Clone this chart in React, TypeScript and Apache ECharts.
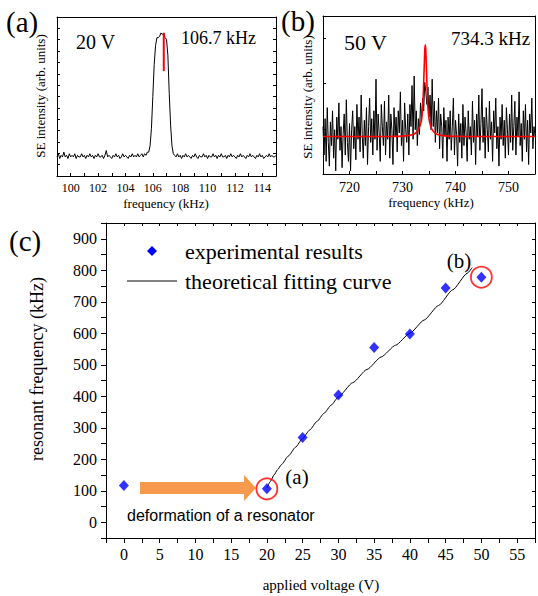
import React, { useEffect, useRef } from "react";
import * as echarts from "echarts";

// ---------- Panel (a): 20 V spectrum ----------
const aStart = 99.0;
const aStep = 0.1;
const aSignal = [
  0.12,0.14,0.11,0.13,0.12,0.15,0.12,0.13,0.11,0.14,
  0.12,0.13,0.12,0.14,0.11,0.13,0.12,0.12,0.14,0.12,
  0.13,0.11,0.13,0.12,0.14,0.12,0.13,0.11,0.13,0.12,
  0.14,0.12,0.12,0.13,0.11,0.13,0.16,0.12,0.13,0.12,
  0.11,0.13,0.12,0.14,0.12,0.13,0.11,0.12,0.14,0.12,
  0.13,0.12,0.11,0.13,0.12,0.14,0.12,0.13,0.12,0.14,
  0.12,0.13,0.14,0.12,0.14,0.13,0.15,
  0.15,0.19,0.30,0.50,0.70,0.82,0.87,0.87,0.88,0.90,0.89,0.90,0.87,0.86,0.76,0.52,0.32,0.19,0.14,0.13,
  0.12,0.14,0.12,0.13,0.11,0.13,0.12,0.14,0.12,0.13,
  0.12,0.11,0.13,0.12,0.14,0.12,0.11,0.13,0.12,0.12,
  0.14,0.12,0.13,0.11,0.13,0.12,0.12,0.14,0.12,0.13,
  0.11,0.13,0.12,0.14,0.12,0.12,0.13,0.11,0.13,0.12,
  0.14,0.12,0.13,0.12,0.11,0.13,0.12,0.14,0.12,0.13,
  0.12,0.11,0.13,0.12,0.14,0.12,0.13,0.12,0.11,0.13,
  0.12,0.14,0.12,0.13,0.11,0.12,0.13,0.12,0.14,0.12,
  0.13,0.12,0.12,0.13,
];
const aMarkerX = [106.8, 106.8];
const aMarkerY = [0.66, 0.9];

// ---------- Panel (b): 50 V spectrum ----------
const bStart = 715.0;
const bStep = 0.2;
const bSignal = [
  0.30,0.12,0.35,0.08,0.42,0.20,0.05,0.33,0.18,0.40,
  0.10,0.28,0.02,0.36,0.22,0.45,0.15,0.30,0.04,0.25,
  0.38,0.12,0.47,0.20,0.08,0.32,0.02,0.28,0.40,0.16,
  0.30,0.09,0.44,0.22,0.36,0.14,0.50,0.25,0.10,0.34,
  0.18,0.42,0.06,0.30,0.48,0.20,0.35,0.12,0.40,0.22,
  0.60,0.15,0.38,0.26,0.08,0.44,0.30,0.18,0.46,0.12,
  0.33,0.22,0.50,0.10,0.38,0.28,0.06,0.42,0.24,0.36,
  0.14,0.40,0.26,0.52,0.18,0.34,0.08,0.45,0.28,0.20,
  0.38,0.12,0.44,0.30,0.56,0.22,0.62,0.28,0.40,0.18,
  0.35,0.25,0.45,0.33,0.48,0.40,0.58,0.52,0.44,0.55,
  0.36,0.50,0.28,0.60,0.30,0.46,0.20,0.40,0.26,0.48,
  0.16,0.38,0.30,0.10,0.42,0.24,0.34,0.08,0.36,0.22,
  0.40,0.15,0.30,0.48,0.12,0.34,0.25,0.05,0.38,0.20,
  0.32,0.10,0.44,0.18,0.36,0.26,0.08,0.40,0.22,0.30,
  0.12,0.46,0.20,0.34,0.06,0.38,0.24,0.50,0.15,0.32,
  0.54,0.20,0.36,0.10,0.42,0.28,0.14,0.46,0.22,0.33,
  0.08,0.40,0.26,0.48,0.16,0.30,0.05,0.36,0.22,0.44,
  0.18,0.34,0.10,0.42,0.28,0.12,0.38,0.20,0.50,0.15,
  0.30,0.46,0.12,0.36,0.24,0.52,0.18,0.32,0.08,0.40,
  0.22,0.44,0.14,0.34,0.06,0.38,0.26,0.48,0.16,0.30,
  0.24,
];
const bFitX = [715, 725, 728, 730, 731, 732, 732.5, 733, 733.5, 733.8, 734.0, 734.2, 734.3, 734.4, 734.6, 734.8, 735.1, 735.6, 736.1, 736.6, 737.6, 738.6, 741, 745, 755];
const bFitY = [0.237, 0.237, 0.238, 0.240, 0.243, 0.250, 0.260, 0.280, 0.330, 0.420, 0.580, 0.780, 0.817, 0.780, 0.580, 0.420, 0.330, 0.280, 0.260, 0.250, 0.243, 0.240, 0.238, 0.237, 0.237];

// ---------- Panel (c): resonant frequency vs voltage ----------
const voltage = [0, 20, 25, 30, 35, 40, 45, 50];
const resonantFreq = [117, 106, 269, 404, 555, 598, 744, 778];
const circledIdx = [1, 7];
const fitVoltage = [20, 20.5, 21, 21.5, 22, 23, 24, 25, 26, 27, 28, 29, 30, 32, 34, 36, 38, 40, 42, 44, 46, 48, 48.7];
const fitFreq = [108, 130, 150, 167, 182, 210, 238, 266, 293, 320, 346, 372, 398, 443, 485, 525, 562, 600, 642, 688, 738, 790, 808];

const yTicksC = [0, 100, 200, 300, 400, 500, 600, 700, 800, 900];

const SERIF = "Liberation Serif, Times New Roman, Times, serif";
const SANS = "Liberation Sans, Arial, sans-serif";

function lineAxis(extra: any) {
  return {
    type: "value",
    axisLine: { show: true, onZero: false, lineStyle: { color: "#000", width: 1 } },
    axisTick: { show: false },
    axisLabel: { show: false },
    splitLine: { show: false },
    ...extra,
  };
}

function txt(x: number, y: number, text: string, size: number, opts: any = {}) {
  const { rotation, align, family, ...rest } = opts;
  return {
    type: "text",
    x,
    y,
    rotation: rotation || 0,
    style: {
      text,
      fontSize: size,
      fontFamily: family || SERIF,
      fill: "#000",
      align: align || "left",
      verticalAlign: "middle",
      ...rest,
    },
  };
}

export default function App() {
  const ref = useRef<HTMLDivElement>(null);
  useEffect(() => {
    if (!ref.current) return;
    const chart = echarts.init(ref.current, null, { renderer: "svg" });

    const aData = aSignal.map((v, i) => [+(aStart + i * aStep).toFixed(2), v]);
    const bData = bSignal.map((v, i) => [+(bStart + i * bStep).toFixed(2), v]);
    const aMarker = aMarkerX.map((x, i) => [x, aMarkerY[i]]);
    const bFit = bFitX.map((x, i) => [x, bFitY[i]]);
    const cPts = voltage.map((x, i) => [x, resonantFreq[i]]);
    const cCirc = circledIdx.map((i) => [voltage[i], resonantFreq[i]]);
    const cFit = fitVoltage.map((x, i) => [x, fitFreq[i]]);

    const tickIn = (len: number) => ({ show: true, inside: true, length: len, lineStyle: { color: "#000", width: 1 } });

    const option: any = {
      animation: false,
      backgroundColor: "#fff",
      textStyle: { fontFamily: SERIF },
      grid: [
        { left: 57, top: 17, width: 219, height: 159 },
        { left: 323, top: 16, width: 214, height: 158 },
        { left: 106, top: 223, width: 431, height: 315 },
      ],
      xAxis: [
        lineAxis({
          gridIndex: 0, position: "bottom", min: 99, max: 115, interval: 1,
          axisTick: tickIn(3),
          axisLabel: {
            show: true, margin: 6, color: "#000", fontFamily: SERIF, fontSize: 12,
            formatter: (v: number) => (Math.round(v) % 2 === 0 && v > 99 && v < 115 ? String(Math.round(v)) : ""),
          },
        }),
        lineAxis({ gridIndex: 0, position: "top", min: 99, max: 115 }),
        lineAxis({
          gridIndex: 1, position: "bottom", min: 715, max: 755, interval: 5,
          axisTick: tickIn(3),
          axisLabel: {
            show: true, margin: 6, color: "#000", fontFamily: SERIF, fontSize: 14,
            formatter: (v: number) => (Math.round(v) % 10 === 0 && v > 715 && v < 755 ? String(Math.round(v)) : ""),
          },
        }),
        lineAxis({ gridIndex: 1, position: "top", min: 715, max: 755 }),
        lineAxis({
          gridIndex: 2, position: "bottom", min: -2.5, max: 57.5, interval: 2.5,
          axisTick: { show: true, inside: false, length: 5, lineStyle: { color: "#000", width: 1 } },
          axisLabel: {
            show: true, margin: 8, color: "#000", fontFamily: SERIF, fontSize: 16,
            formatter: (v: number) => {
              const r = Math.round(v);
              return Math.abs(v - r) < 1e-6 && r % 5 === 0 && r >= 0 && r <= 55 ? String(r) : "";
            },
          },
        }),
        lineAxis({
          gridIndex: 2, position: "top", min: -2.5, max: 57.5, interval: 2.5,
          axisTick: tickIn(3),
        }),
      ],
      yAxis: [
        lineAxis({ gridIndex: 0, position: "left", min: 0, max: 1, interval: 1 / 14, axisTick: tickIn(3) }),
        lineAxis({ gridIndex: 0, position: "right", min: 0, max: 1, interval: 1 / 14, axisTick: tickIn(3) }),
        lineAxis({ gridIndex: 1, position: "left", min: 0, max: 1, interval: 2 / 7, axisTick: tickIn(3) }),
        lineAxis({ gridIndex: 1, position: "right", min: 0, max: 1 }),
        lineAxis({
          gridIndex: 2, position: "left", min: -50, max: 950, interval: 50,
          axisTick: { show: true, inside: false, length: 5, lineStyle: { color: "#000", width: 1 } },
          axisLabel: {
            show: true, margin: 9, color: "#000", fontFamily: SERIF, fontSize: 16,
            formatter: (v: number) => {
              const r = Math.round(v);
              return yTicksC.indexOf(r) >= 0 && Math.abs(v - r) < 1e-6 ? String(r) : "";
            },
          },
        }),
        lineAxis({
          gridIndex: 2, position: "right", min: -50, max: 950, interval: 50,
          axisTick: tickIn(3),
        }),
      ],
      series: [
        {
          type: "line", xAxisIndex: 0, yAxisIndex: 0, data: aData, showSymbol: false, symbol: "none",
          lineStyle: { color: "#000", width: 1 }, z: 2,
        },
        {
          type: "line", xAxisIndex: 0, yAxisIndex: 0, data: aMarker, symbol: "none",
          lineStyle: { color: "#ff0000", width: 2 }, z: 3,
        },
        {
          type: "line", xAxisIndex: 2, yAxisIndex: 2, data: bData, symbol: "none",
          lineStyle: { color: "#000", width: 1 }, z: 2,
        },
        {
          type: "line", xAxisIndex: 2, yAxisIndex: 2, data: bFit, symbol: "none", smooth: 0.3,
          lineStyle: { color: "#ff0000", width: 1.6 }, z: 3,
        },
        {
          type: "line", xAxisIndex: 4, yAxisIndex: 4, data: cFit, symbol: "none", smooth: 0.2, smoothMonotone: "x",
          lineStyle: { color: "#000", width: 1 }, z: 2,
        },
        {
          type: "scatter", xAxisIndex: 4, yAxisIndex: 4, data: cPts, symbol: "diamond", symbolSize: [10, 11],
          itemStyle: { color: "#0000ff" }, z: 4,
        },
        {
          type: "scatter", xAxisIndex: 4, yAxisIndex: 4, data: cCirc, symbol: "circle", symbolSize: 21,
          itemStyle: { color: "rgba(0,0,0,0)", borderColor: "#ff0000", borderWidth: 1.8 }, z: 5,
        },
      ],
      graphic: [
        // panel labels
        txt(6, 22, "(a)", 29),
        txt(281, 21, "(b)", 29),
        txt(9, 241, "(c)", 29),
        // panel (a) texts
        txt(76, 42, "20 V", 20),
        txt(181, 38, "106.7 kHz", 18),
        txt(166, 203, "frequency (kHz)", 13, { align: "center" }),
        txt(40, 96, "SE intensity (arb. units)", 13, { align: "center", rotation: Math.PI / 2 }),
        // panel (b) texts
        txt(344, 42, "50 V", 22),
        txt(451, 38, "734.3 kHz", 19),
        txt(431, 202, "frequency (kHz)", 13, { align: "center" }),
        txt(307, 97, "SE intensity (arb. units)", 13, { align: "center", rotation: Math.PI / 2 }),
        // panel (c) axis titles
        txt(321, 585, "applied voltage (V)", 15, { align: "center" }),
        txt(37, 369, "resonant frequency (kHz)", 18, { align: "center", rotation: Math.PI / 2 }),
        // legend
        { type: "polygon", shape: { points: [[152, 246], [157, 251], [152, 256], [147, 251]] }, style: { fill: "#0000ff" } },
        txt(185, 251, "experimental results", 22),
        { type: "line", shape: { x1: 127, y1: 281, x2: 177, y2: 281 }, style: { stroke: "#000", lineWidth: 1 } },
        txt(185, 281, "theoretical fitting curve", 22),
        // annotations
        txt(459, 261, "(b)", 21, { align: "center" }),
        txt(297, 477, "(a)", 21, { align: "center" }),
        {
          type: "polygon",
          shape: { points: [[140, 482], [244, 482], [244, 475], [256, 488], [244, 501], [244, 494], [140, 494]] },
          style: { fill: "#f69a4c" },
        },
        txt(127, 515, "deformation of a resonator", 16, { family: SANS }),
      ],
    };
    chart.setOption(option);
    return () => chart.dispose();
  }, []);
  return <div ref={ref} style={{ position: "fixed", left: 0, top: 0, width: 538, height: 596, background: "#fff" }} />;
}
